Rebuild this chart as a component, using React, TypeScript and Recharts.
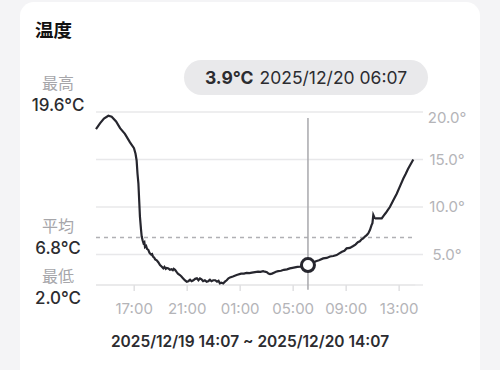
import React from 'react';
import {
  LineChart,
  Line,
  XAxis,
  YAxis,
  CartesianGrid,
  ReferenceLine,
  ReferenceDot
} from 'recharts';

// minutes since 2025/12/19 14:07
const minutes = [
  0, 18, 36, 56, 71, 91, 109, 131, 154, 172, 179, 184, 188, 192, 196, 199, 204, 207, 211, 215, 219, 222, 227, 231,
  237, 242, 245, 250, 254, 258, 263, 268, 275, 282, 290, 297, 305, 310, 316, 321, 328, 335, 342, 348, 352, 358, 364, 371, 380, 387, 394, 402, 411, 418, 426, 433, 441, 449, 457, 464, 471, 478, 485, 493, 501, 508, 516, 523, 531,
  540, 548, 555, 561, 568, 576, 584, 592, 600, 607, 620, 637, 657, 670, 682, 695, 706, 720, 734, 745, 757, 765, 774, 781, 788, 797, 806, 815, 825, 838, 851, 865, 878, 890, 901, 912, 924,
  940, 960, 969, 982, 996, 1010, 1029, 1045, 1060, 1075, 1090, 1100, 1114, 1125, 1135, 1150, 1165, 1175, 1186, 1195, 1203, 1210, 1218, 1226, 1233, 1241, 1248, 1252, 1256, 1261, 1266, 1280, 1294, 1303, 1313, 1322, 1331,
  1346, 1362, 1377, 1392, 1403, 1413, 1425, 1437
];
const temps = [
  18.2, 18.8, 19.3, 19.6, 19.5, 19.0, 18.3, 17.7, 16.8, 16.2, 15.6, 14.9, 13.5, 12.5, 10.5, 9.0, 7.6, 6.9, 6.5, 6.2, 6.3, 5.8, 5.9, 5.6,
  5.5, 5.2, 5.1, 5.0, 5.05, 4.8, 4.7, 4.5, 4.4, 4.2, 3.9, 3.75, 3.55, 3.7, 3.5, 3.6, 3.55, 3.4, 3.45, 3.35, 3.5, 3.4, 3.2, 3.0, 2.85, 2.7, 2.5, 2.3, 2.15, 2.2, 2.35, 2.2, 2.3, 2.45, 2.5, 2.3, 2.5, 2.4, 2.2, 2.3, 2.15, 2.2, 2.35, 2.2, 2.3,
  2.3, 2.15, 2.25, 1.98, 2.05, 1.96, 2.15, 2.3, 2.5, 2.6, 2.7, 2.85, 3.0, 3.0, 3.08, 3.05, 3.1, 3.15, 3.2, 3.18, 3.25, 3.2, 3.15, 3.0, 2.95, 3.0, 3.1, 3.2, 3.26, 3.3, 3.4, 3.45, 3.55, 3.6, 3.65, 3.7, 3.72,
  3.8, 3.9, 4.07, 4.15, 4.3, 4.4, 4.6, 4.65, 4.8, 4.85, 4.95, 5.1, 5.3, 5.4, 5.65, 5.7, 5.9, 6.05, 6.3, 6.4, 6.6, 6.7, 6.9, 7.05, 7.23, 7.6, 8.1, 8.3, 9.16, 8.9, 8.8, 8.8, 8.8, 9.1, 9.4, 9.7, 10.0,
  10.7, 11.4, 12.2, 13.0, 13.5, 14.0, 14.5, 15.0
];
const xTicks = [173, 413, 653, 893, 1133, 1373];
const xTickLabels = ['17:00', '21:00', '01:00', '05:00', '09:00', '13:00'];
const yTicks = [5, 10, 15, 20];

const AVG = 6.8;
const Y_MIN = 1.8;
const Y_MAX = 20;
const CURSOR_MIN = 960;
const CURSOR_TEMP = 3.9;

const data = minutes.map((m, i) => ({ m, t: temps[i] }));

const font = "Inter, 'Noto Sans CJK JP', sans-serif";

const RightTick = (props: any) => {
  const { x, y, payload } = props;
  const dy = payload.value === 20 ? 6 : 0;
  return (
    <text x={x + 22} y={y + dy} dy="0.36em" textAnchor="middle" fill="#b4b4b8" fontSize={15} fontFamily={font}>
      {payload.value.toFixed(1)}°
    </text>
  );
};

const Stat: React.FC<{ label: string; value: string; top: number }> = ({ label, value, top }) => (
  <div style={{ position: 'absolute', left: 8, width: 100, top, textAlign: 'center', fontFamily: font }}>
    <div style={{ fontSize: 16, color: '#a6a6aa', lineHeight: '22px' }}>{label}</div>
    <div style={{ fontSize: 17, color: '#2c2c30', lineHeight: '22px', fontWeight: 500 }}>{value}</div>
  </div>
);

export default function App() {
  return (
    <div style={{ position: 'fixed', left: 0, top: 0, width: 500, height: 370, background: '#f4f4f6', overflow: 'hidden' }}>
      <div style={{ position: 'absolute', left: 20, top: 2, width: 460, height: 400, background: '#fff', borderRadius: 14 }} />
      <div style={{ position: 'absolute', left: 35, top: 16, fontFamily: font, fontWeight: 700, fontSize: 18.5, color: '#111' }}>温度</div>

      <Stat label="最高" value="19.6°C" top={72} />
      <Stat label="平均" value="6.8°C" top={215} />
      <Stat label="最低" value="2.0°C" top={265} />

      <div style={{ position: 'absolute', left: 0, top: 0 }}>
        <LineChart width={500} height={370} data={data} margin={{ top: 112, right: 27, left: 96, bottom: 55 }}>
          <CartesianGrid horizontal vertical={false} stroke="#e8e8ea" strokeWidth={1.5} />
          <XAxis
            dataKey="m"
            type="number"
            domain={[0, 1481]}
            ticks={xTicks}
            tickFormatter={(v: number) => xTickLabels[xTicks.indexOf(v)]}
            axisLine={false}
            tickLine={{ stroke: '#e0e0e2', strokeWidth: 1.5 }}
            tickSize={6}
            tickMargin={12}
            height={30}
            tick={{ fill: '#b4b4b8', fontSize: 15, fontFamily: font }}
          />
          <YAxis
            orientation="right"
            type="number"
            domain={[Y_MIN, Y_MAX]}
            ticks={yTicks}
            allowDataOverflow
            axisLine={false}
            tickLine={false}
            tickSize={0}
            width={50}
            tick={<RightTick />}
          />
          <ReferenceLine
            segment={[{ x: 0, y: Y_MIN }, { x: 1445, y: Y_MIN }]}
            stroke="#e8e8ea"
            strokeWidth={1.5}
            ifOverflow="visible"
          />
          <ReferenceLine
            segment={[{ x: 0, y: AVG }, { x: 1440, y: AVG }]}
            stroke="#b0b0b4"
            strokeWidth={1.5}
            strokeDasharray="4 4"
            ifOverflow="visible"
          />
          <ReferenceLine
            segment={[{ x: CURSOR_MIN, y: 19.37 }, { x: CURSOR_MIN, y: 1.3 }]}
            stroke="#a8a8ac"
            strokeWidth={1.5}
            ifOverflow="visible"
          />
          <Line
            type="linear"
            dataKey="t"
            stroke="#26262e"
            strokeWidth={2.2}
            dot={false}
            isAnimationActive={false}
          />
          <ReferenceDot
            x={CURSOR_MIN}
            y={CURSOR_TEMP}
            r={6.5}
            fill="#fff"
            stroke="#26262e"
            strokeWidth={3}
            ifOverflow="visible"
          />
        </LineChart>
      </div>

      <div
        style={{
          position: 'absolute',
          left: 184,
          top: 60,
          width: 244,
          height: 35,
          borderRadius: 18,
          background: '#e9e9eb',
          display: 'flex',
          alignItems: 'center',
          justifyContent: 'center',
          fontFamily: font,
          fontSize: 17.5,
          color: '#2c2c30'
        }}
      >
        <span style={{ fontWeight: 700 }}>{CURSOR_TEMP.toFixed(1)}°C</span>
        <span style={{ marginLeft: 6 }}>2025/12/20 06:07</span>
      </div>

      <div
        style={{
          position: 'absolute',
          left: 0,
          width: 500,
          top: 332,
          textAlign: 'center',
          paddingRight: 2,
          fontFamily: font,
          fontSize: 15.5,
          fontWeight: 600,
          color: '#2c2c30'
        }}
      >
        2025/12/19 14:07 ~ 2025/12/20 14:07
      </div>
    </div>
  );
}
